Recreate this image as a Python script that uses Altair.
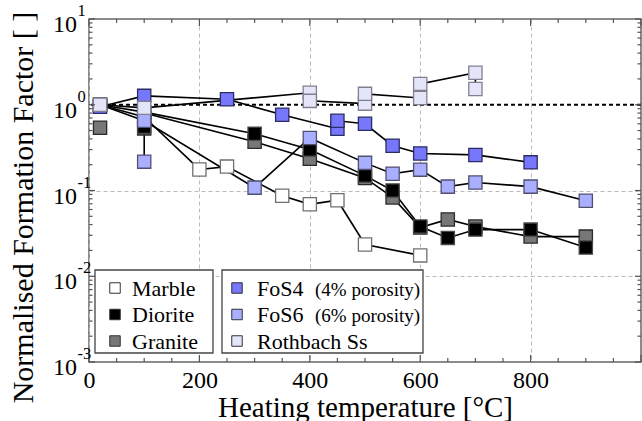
import altair as alt
import pandas as pd

FONT = "Liberation Serif, Times New Roman, Times, serif"

# ---------------- data ----------------
marble_t = [20, 100, 200, 250, 350, 400, 450, 500, 600]
marble_f = [1.0, 0.72, 0.176, 0.19, 0.087, 0.069, 0.077, 0.0235, 0.0175]

diorite_t = [20, 100, 300, 400, 500, 550, 600, 650, 700, 800, 900]
diorite_f = [1.0, 0.82, 0.46, 0.30, 0.149, 0.10, 0.038, 0.028, 0.035, 0.035, 0.0216]
diorite_iso_t = [100]
diorite_iso_f = [0.555]

granite_t = [100, 300, 400, 500, 550, 600, 650, 700, 800, 900]
granite_f = [0.80, 0.37, 0.235, 0.14, 0.083, 0.037, 0.046, 0.038, 0.029, 0.029]
granite_iso_t = [20, 100]
granite_iso_f = [0.54, 0.53]

fos4_t = [20, 100, 250, 350, 450, 450, 500, 550, 600, 700, 800]
fos4_f = [0.95, 1.27, 1.16, 0.765, 0.525, 0.65, 0.60, 0.333, 0.27, 0.26, 0.213]

fos6_t = [20, 100, 300, 400, 500, 550, 600, 650, 700, 800, 900]
fos6_f = [1.0, 0.65, 0.108, 0.41, 0.21, 0.157, 0.175, 0.111, 0.124, 0.111, 0.076]
fos6_extra_t = [100, 100]
fos6_extra_f = [0.65, 0.217]

roth_t = [20, 100, 400, 400, 500, 500, 600, 600, 700, 700]
roth_f = [1.0, 0.92, 1.38, 1.11, 1.03, 1.34, 1.2, 1.75, 2.36, 1.53]

series_names = ["Marble", "Granite", "Diorite", "FoS6", "FoS4", "Rothbach Ss"]
series_fill = ["#ffffff", "#777777", "#000000", "#a9aefe", "#7777fb", "#e5e5f9"]
series_stroke = ["#707070", "#2a2a2a", "#4a4a4a", "#505070", "#2c2c66", "#808090"]

x_major = [0, 200, 400, 600, 800, 1000]
x_minor = [50, 100, 150, 250, 300, 350, 450, 500, 550, 650, 700, 750, 850, 900, 950]
y_decades = [10, 1, 0.1, 0.01, 0.001]
y_exponents = ["1", "0", "-1", "-2", "-3"]
y_minor = [m * d for d in [0.001, 0.01, 0.1, 1] for m in range(2, 10)]

legend_left = ["Marble", "Diorite", "Granite"]
legend_right = ["FoS4", "FoS6", "Rothbach Ss"]
legend_right_note = ["(4% porosity)", "(6% porosity)", ""]

# ---------------- tables ----------------
line_rows = []
def add_line(name, run, ts, fs):
    for i, (t, f) in enumerate(zip(ts, fs)):
        line_rows.append({"series": name, "run": run, "idx": i, "t": t, "f": f})

add_line("Marble", "m", marble_t, marble_f)
add_line("Granite", "g", granite_t, granite_f)
add_line("Diorite", "d", diorite_t, diorite_f)
add_line("FoS6", "f6", fos6_t, fos6_f)
add_line("FoS6", "f6b", fos6_extra_t, fos6_extra_f)
add_line("FoS4", "f4", fos4_t, fos4_f)
add_line("Rothbach Ss", "r", roth_t, roth_f)
lines_df = pd.DataFrame(line_rows)

pt_rows = []
def add_pts(name, ts, fs):
    for t, f in zip(ts, fs):
        pt_rows.append({"series": name, "t": t, "f": f})

add_pts("Marble", marble_t, marble_f)
add_pts("Granite", granite_iso_t, granite_iso_f)
add_pts("Granite", granite_t, granite_f)
add_pts("Diorite", diorite_iso_t, diorite_iso_f)
add_pts("Diorite", diorite_t, diorite_f)
add_pts("FoS6", fos6_extra_t[1:], fos6_extra_f[1:])
add_pts("FoS6", fos6_t, fos6_f)
add_pts("FoS4", fos4_t, fos4_f)
add_pts("Rothbach Ss", roth_t, roth_f)
pts_df = pd.DataFrame(pt_rows)
pts_df["ord"] = range(len(pts_df))

W, H = 552, 343

xs = alt.Scale(domain=[0, 1000], nice=False, zero=False)
ys = alt.Scale(type="log", domain=[0.001, 10], nice=False)

xaxis = alt.Axis(values=[0, 200, 400, 600, 800], labelFontSize=24, labelBaseline="alphabetic",
                 labelPadding=25, labelFlush=False, labelOverlap=False,
                 grid=True, gridColor="#bbbbbb", gridDash=[4, 3], gridWidth=1,
                 titleFontSize=29, titleBaseline="alphabetic", titleY=54)
yaxis = alt.Axis(values=[0.1, 0.01], labels=False, grid=True, gridColor="#bbbbbb",
                 gridDash=[4, 3], gridWidth=1, titleFontSize=30, titleX=-66, titleY=188,
                 titleAngle=270, titleAlign="center", titleBaseline="middle")

X = alt.X("t:Q", scale=xs, axis=xaxis, title="Heating temperature [°C]")
Y = alt.Y("f:Q", scale=ys, axis=yaxis, title="Normalised Formation Factor [ ]")

fill_scale = alt.Scale(domain=series_names, range=series_fill)
stroke_scale = alt.Scale(domain=series_names, range=series_stroke)

unity = alt.Chart(pd.DataFrame({"f": [1.0]})).mark_rule(
    color="black", strokeDash=[4, 3], strokeWidth=1.8).encode(y=Y)

lines = alt.Chart(lines_df).mark_line(color="black", strokeWidth=1.6).encode(
    x=X, y=Y, detail="run:N", order="idx:Q")

points = alt.Chart(pts_df).mark_square(size=175, opacity=1, strokeWidth=1.3).encode(
    x=X, y=Y,
    fill=alt.Fill("series:N", scale=fill_scale, legend=None),
    stroke=alt.Stroke("series:N", scale=stroke_scale, legend=None),
    order="ord:Q")

TICK_C = "#555555"
xmaj = pd.DataFrame({"t": x_major})
xmin = pd.DataFrame({"t": x_minor})
ymaj = pd.DataFrame({"f": y_decades})
ymin = pd.DataFrame({"f": y_minor})

ticks = [
    alt.Chart(xmaj).mark_rule(color=TICK_C, strokeWidth=1.2).encode(x=X, y=alt.value(H), y2=alt.value(H - 7)),
    alt.Chart(xmin).mark_rule(color=TICK_C, strokeWidth=1.2).encode(x=X, y=alt.value(H), y2=alt.value(H - 4)),
    alt.Chart(xmaj).mark_rule(color=TICK_C, strokeWidth=1.2).encode(x=X, y=alt.value(0), y2=alt.value(7)),
    alt.Chart(xmin).mark_rule(color=TICK_C, strokeWidth=1.2).encode(x=X, y=alt.value(0), y2=alt.value(4)),
    alt.Chart(ymaj).mark_rule(color=TICK_C, strokeWidth=1.2).encode(y=Y, x=alt.value(0), x2=alt.value(6)),
    alt.Chart(ymin).mark_rule(color=TICK_C, strokeWidth=1.2).encode(y=Y, x=alt.value(0), x2=alt.value(3.5)),
    alt.Chart(ymaj).mark_rule(color=TICK_C, strokeWidth=1.2).encode(y=Y, x=alt.value(W), x2=alt.value(W - 6)),
    alt.Chart(ymin).mark_rule(color=TICK_C, strokeWidth=1.2).encode(y=Y, x=alt.value(W), x2=alt.value(W - 3.5)),
]

ylab_df = pd.DataFrame({"f": y_decades, "base": ["10"] * 5, "exp": y_exponents})
ylab_base = alt.Chart(ylab_df).mark_text(align="right", baseline="middle", font=FONT,
                                         fontSize=24, color="black", dy=6).encode(
    y=Y, x=alt.value(-12), text="base:N")
ylab_exp = alt.Chart(ylab_df).mark_text(align="left", baseline="middle", font=FONT,
                                        fontSize=16.5, color="black", dy=-8).encode(
    y=Y, x=alt.value(-11.5), text="exp:N")

# ---------------- legend boxes ----------------
one = pd.DataFrame({"k": [0]})
leg_layers = []
for (x0, x1) in [(6, 124), (133, 334)]:
    leg_layers.append(alt.Chart(one).mark_rect(fill="white", stroke="#444444", strokeWidth=1.3).encode(
        x=alt.value(x0), x2=alt.value(x1), y=alt.value(251), y2=alt.value(334)))

row_y = [269, 295.5, 322]
fill_of = dict(zip(series_names, series_fill))
for i, name in enumerate(legend_left):
    leg_layers.append(alt.Chart(one).mark_square(size=110, opacity=1, fill=fill_of[name],
                                                 stroke="#333333", strokeWidth=1).encode(
        x=alt.value(26), y=alt.value(row_y[i])))
    leg_layers.append(alt.Chart(pd.DataFrame({"s": [name]})).mark_text(
        align="left", baseline="alphabetic", font=FONT, fontSize=22, color="black").encode(
        x=alt.value(43), y=alt.value(row_y[i] + 7.5), text="s:N"))
for i, name in enumerate(legend_right):
    leg_layers.append(alt.Chart(one).mark_square(size=110, opacity=1, fill=fill_of[name],
                                                 stroke="#333333", strokeWidth=1).encode(
        x=alt.value(148), y=alt.value(row_y[i])))
    leg_layers.append(alt.Chart(pd.DataFrame({"s": [name]})).mark_text(
        align="left", baseline="alphabetic", font=FONT, fontSize=22, color="black").encode(
        x=alt.value(168), y=alt.value(row_y[i] + 7.5), text="s:N"))
    if legend_right_note[i]:
        leg_layers.append(alt.Chart(pd.DataFrame({"s": [legend_right_note[i]]})).mark_text(
            align="left", baseline="alphabetic", font=FONT, fontSize=19, color="black").encode(
            x=alt.value(226), y=alt.value(row_y[i] + 7.5), text="s:N"))

chart = alt.layer(unity, lines, points, *ticks, ylab_base, ylab_exp, *leg_layers).properties(
    width=W, height=H,
    autosize=alt.AutoSizeParams(type="none"),
    padding={"left": 89, "top": 19, "right": 1, "bottom": 59},
).configure(font=FONT).configure_axis(
    labelFont=FONT, titleFont=FONT, labelColor="black", titleColor="black",
    titleFontWeight="normal", domain=False, ticks=False,
).configure_view(stroke="#666666", strokeWidth=1.5)

chart.save("out.html", embed_options={"renderer": "svg", "actions": False})
